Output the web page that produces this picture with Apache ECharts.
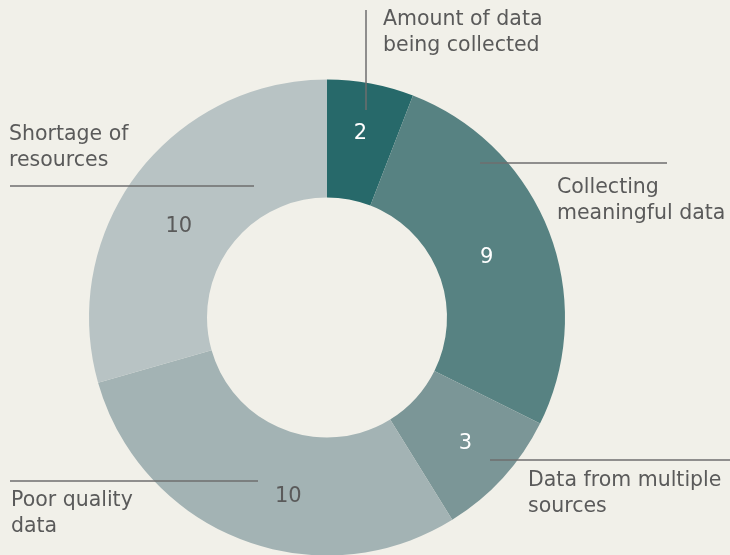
<!DOCTYPE html>
<html><head><meta charset="utf-8">
<script src="https://cdn.jsdelivr.net/npm/echarts@6/dist/echarts.min.js"></script>
<style>html,body{margin:0;padding:0;background:#f1f0e9}#c{width:730px;height:555px}</style>
</head><body><div id="c"></div>
<script>
const categories = ['Amount of data being collected','Collecting meaningful data','Data from multiple sources','Poor quality data','Shortage of resources'];
const values = [2, 9, 3, 10, 10];
const labelLines = [
  ['Amount of data','being collected'],
  ['Collecting','meaningful data'],
  ['Data from multiple','sources'],
  ['Poor quality','data'],
  ['Shortage of','resources']
];
const colors = ['#27696a','#578282','#7b9697','#a3b3b4','#b8c3c4'];
const valueColors = ['#ffffff','#ffffff','#ffffff','#5a5a5a','#5a5a5a'];
const valueShift = [[0,-5],[-10,6],[4,3],[27,9],[-3,19]];

const FONT = '"DejaVu Sans", sans-serif';
const TXT = '#5a5a5a';
const LINE = '#6e6e6e';
// annotation layout (positions only)
const annText = [[383,7],[557,175],[528,468],[11,488],[9,122]];
const annLine = [[366,10,366,110],[480,163,667,163],[490,460,730,460],[10,481,258,481],[10,186,254,186]];

const graphics = [];
annLine.forEach(l => graphics.push({type:'line', shape:{x1:l[0],y1:l[1],x2:l[2],y2:l[3]}, style:{stroke:LINE,lineWidth:1.5}, z:10}));
labelLines.forEach((t,i) => graphics.push({type:'text', x:annText[i][0], y:annText[i][1], style:{text:t.join('\n'), fill:TXT, font:'20.5px '+FONT, lineHeight:25.5, verticalAlign:'top'}, z:10}));

const chart = echarts.init(document.getElementById('c'), null, {renderer:'canvas'});
chart.setOption({
  backgroundColor:'#f1f0e9',
  animation:false,
  graphic: graphics,
  series:[{
    type:'pie',
    center:[327,317.5],
    radius:[120,238],
    startAngle:90,
    clockwise:true,
    avoidLabelOverlap:false,
    data: categories.map((c,i)=>({name:c, value:values[i], itemStyle:{color:colors[i]}, label:{color:valueColors[i]}})),
    label:{show:true, position:'inside', formatter:'{c}', fontSize:21, fontFamily:FONT},
    labelLine:{show:false},
    labelLayout: p => ({dx:valueShift[p.dataIndex][0], dy:valueShift[p.dataIndex][1]}),
    emphasis:{disabled:true}
  }]
});
</script></body></html>
